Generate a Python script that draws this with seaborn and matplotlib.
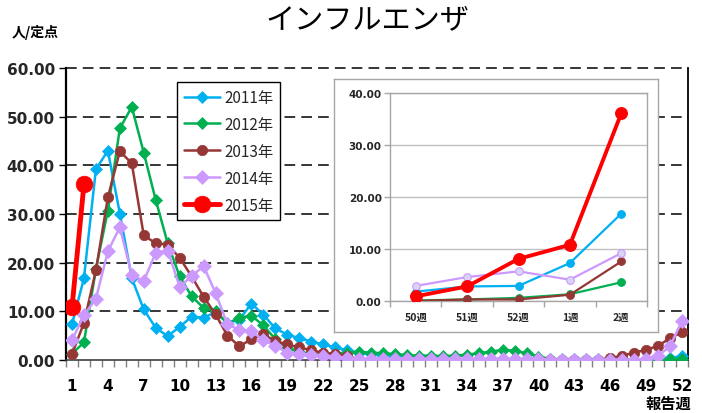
import numpy as np
import pandas as pd
import matplotlib
matplotlib.use("Agg")
import matplotlib.pyplot as plt
import seaborn as sns

# ---------------- data ----------------
weeks = list(range(1, 53))
y2011 = [7.3, 16.8, 39.2, 43.0, 30.1, 16.8, 10.4, 6.6, 4.9, 6.8,
         8.9, 8.7, 9.8, 7.6, 8.3, 11.6, 9.3, 6.5, 5.2, 4.5,
         3.8, 3.2, 2.6, 2.0, 1.5, 1.2, 0.9, 0.7, 0.5, 0.4,
         0.3, 0.3, 0.2, 0.2, 0.2, 0.2, 0.2, 0.2, 0.2, 0.2,
         0.2, 0.2, 0.2, 0.2, 0.2, 0.1, 0.1, 0.1, 0.1, 0.1,
         0.4, 0.8]
y2012 = [1.3, 3.6, 18.7, 30.7, 47.6, 52.0, 42.6, 32.9, 24.0, 17.2,
         13.1, 10.7, 10.1, 7.5, 8.7, 9.1, 7.1, 4.3, 2.5, 1.6,
         1.3, 1.3, 1.3, 1.5, 1.7, 1.5, 1.4, 1.2, 1.0, 0.9,
         0.9, 0.8, 0.9, 1.1, 1.4, 1.7, 2.1, 1.9, 1.4, 0.7,
         0.2, 0.1, 0.1, 0.1, 0.1, 0.1, 0.1, 0.1, 0.0, 0.0,
         0.3, 0.3]
y2013 = [1.2, 7.6, 18.4, 33.4, 42.9, 40.4, 25.6, 24.0, 23.7, 21.0,
         17.2, 13.0, 9.4, 5.0, 2.8, 4.3, 5.3, 3.9, 3.2, 2.6,
         2.0, 1.5, 1.2, 0.9, 0.1, 0.1, 0.1, 0.1, 0.1, 0.1,
         0.1, 0.1, 0.1, 0.1, 0.1, 0.1, 0.1, 0.1, 0.1, 0.1,
         0.1, 0.1, 0.1, 0.1, 0.1, 0.4, 0.9, 1.5, 2.1, 2.9,
         4.5, 5.7]
y2014 = [4.1, 9.2, 12.6, 22.3, 27.3, 17.5, 16.2, 22.0, 22.5, 15.1,
         17.2, 19.3, 13.8, 7.3, 6.2, 5.9, 4.1, 2.9, 1.5, 1.3,
         1.1, 0.9, 0.7, 0.4, 0.3, 0.3, 0.3, 0.3, 0.3, 0.3,
         0.2, 0.2, 0.2, 0.2, 0.2, 0.2, 0.2, 0.2, 0.2, 0.2,
         0.1, 0.1, 0.1, 0.1, 0.1, 0.1, 0.1, 0.1, 0.3, 0.9,
         2.8, 8.1]
weeks2015 = [1, 2]
y2015 = [10.8, 36.1]

inset_labels = ["50週", "51週", "52週", "1週", "2週"]
in2011 = [1.8, 2.8, 2.9, 7.3, 16.8]
in2012 = [0.1, 0.3, 0.6, 1.3, 3.6]
in2013 = [0.0, 0.3, 0.3, 1.2, 7.6]
in2014 = [2.9, 4.6, 5.7, 4.1, 9.2]
in2015 = [0.9, 2.8, 8.1, 10.8, 36.1]

series_names = ["2011年", "2012年", "2013年", "2014年", "2015年"]
xtick_weeks = list(range(1, 53, 3))
ytick_main = [0, 10, 20, 30, 40, 50, 60]
ytick_inset = [0, 10, 20, 30, 40]

# ---------------- style ----------------
sns.set_theme(style="white")
plt.rcParams["font.family"] = ["Noto Sans CJK JP", "DejaVu Sans"]

colors = ["#00B0F0", "#00B050", "#953735", "#CC99FF", "#FF0000"]

W, H = 702, 414
fig = plt.figure(figsize=(W / 100, H / 100), dpi=100)
fig.patch.set_facecolor("white")

def fx(px):
    return px / W

def fy(py):
    return 1 - py / H

# main axes: x 66..688, y 69..361
ax = fig.add_axes([fx(66), fy(361), fx(688) - fx(66), fy(69) - fy(361)])
ax.set_facecolor("white")

main_specs = [
    (weeks, y2011, "D", 6, 1.8),
    (weeks, y2012, "D", 6, 1.8),
    (weeks, y2013, "o", 7.5, 1.8),
    (weeks, y2014, "D", 7, 1.8),
    (weeks2015, y2015, "o", 12, 3.5),
]
for i, (xs, ys, mk, ms, lw) in enumerate(main_specs):
    df = pd.DataFrame({"week": xs, "value": ys})
    sns.lineplot(data=df, x="week", y="value", ax=ax, color=colors[i],
                 marker=mk, markersize=ms, markeredgecolor=colors[i],
                 markeredgewidth=0.5, linewidth=lw, label=series_names[i],
                 zorder=3 + i, legend=False)

ax.set_xlim(0.5, 52.5)
ax.set_ylim(0, 60)
ax.set_xlabel("")
ax.set_ylabel("")

ax.set_yticks(ytick_main)
ax.set_yticklabels([f"{v:.2f}" for v in ytick_main], fontweight="bold",
                   fontsize=11, family="DejaVu Sans")
ax.set_xticks(xtick_weeks)
ax.set_xticklabels([str(w) for w in xtick_weeks], fontweight="bold",
                   fontsize=11, family="DejaVu Sans")
ax.set_xticks(np.arange(0.5, 53, 1.0), minor=True)
ax.tick_params(axis="x", which="major", length=0, pad=13, colors="black")
ax.tick_params(axis="x", which="minor", length=5, width=1, color="#808080",
               direction="out", bottom=True)
ax.tick_params(axis="y", which="major", length=5, width=1, color="black",
               direction="out", left=True, pad=3)

for y in ytick_main[1:]:
    ax.axhline(y, color="black", linewidth=1.1, linestyle=(0, (7, 4)),
               zorder=1, clip_on=False)

ax.spines["top"].set_visible(False)
ax.spines["left"].set_color("black")
ax.spines["left"].set_linewidth(1.6)
ax.spines["right"].set_color("black")
ax.spines["right"].set_linewidth(1.3)
ax.spines["bottom"].set_color("#404040")
ax.spines["bottom"].set_linewidth(1.2)

leg = ax.legend(loc="upper left", bbox_to_anchor=(0.178, 0.952),
                borderaxespad=0, frameon=True, fancybox=False, framealpha=1,
                fontsize=11, handlelength=2.4, handletextpad=0.25,
                labelspacing=0.65, borderpad=0.45)
leg.get_frame().set_edgecolor("black")
leg.get_frame().set_linewidth(1.0)
leg.get_frame().set_facecolor("white")
leg.set_zorder(20)

# inset outer frame: x 334..658, y 80..333
axf = fig.add_axes([fx(334), fy(333), fx(658) - fx(334), fy(80) - fy(333)])
axf.set_facecolor("white")
axf.set_xticks([])
axf.set_yticks([])
for s in axf.spines.values():
    s.set_color("#A6A6A6")
    s.set_linewidth(1.0)

# inset axes: x 390..647, y 94..302
axi = fig.add_axes([fx(390), fy(302), fx(647) - fx(390), fy(94) - fy(302)])
axi.set_facecolor("white")
pos = np.arange(len(inset_labels))
inset_series = [in2011, in2012, in2013, in2014, in2015]
for i, ys in enumerate(inset_series):
    df = pd.DataFrame({"pos": pos, "value": ys})
    big = i == 4
    face = "#D9D4F2" if i == 3 else colors[i]
    sns.lineplot(data=df, x="pos", y="value", ax=axi, color=colors[i],
                 marker="o", markersize=8.5 if big else 5.5,
                 markerfacecolor=face, markeredgecolor=colors[i],
                 markeredgewidth=0.8, linewidth=2.8 if big else 1.6,
                 zorder=3 + i, legend=False)
axi.set_xlim(-0.5, len(inset_labels) - 0.5)
axi.set_ylim(0, 40)
axi.set_xlabel("")
axi.set_ylabel("")
axi.set_yticks(ytick_inset)
axi.set_yticklabels([f"{v:.2f}" for v in ytick_inset], fontweight="bold",
                    fontsize=7.5, family="DejaVu Sans")
axi.set_xticks(pos)
axi.set_xticklabels(inset_labels, fontweight="bold", fontsize=7.5)
axi.set_xticks(np.arange(-0.5, len(inset_labels), 1.0), minor=True)
axi.tick_params(axis="x", which="major", length=0, pad=8)
axi.tick_params(axis="x", which="minor", length=4, width=1, color="#A6A6A6",
                direction="out", bottom=True)
axi.tick_params(axis="y", which="major", length=4, width=1, color="#A6A6A6",
                direction="out", left=True, pad=2)
axi.yaxis.grid(True, color="#C0C0C0", linewidth=1.0, linestyle="-")
axi.set_axisbelow(True)
for s in axi.spines.values():
    s.set_color("#A6A6A6")
    s.set_linewidth(1.0)

# texts
fig.text(fx(367), fy(20), "インフルエンザ", ha="center", va="center",
         fontsize=21, color="black")
fig.text(fx(12), fy(32), "人/定点", ha="left", va="center",
         fontsize=10, fontweight="bold", color="black")
fig.text(fx(691), fy(404), "報告週", ha="right", va="center",
         fontsize=11, fontweight="bold", color="black")

fig.savefig("out.png", dpi=100, facecolor="white")
